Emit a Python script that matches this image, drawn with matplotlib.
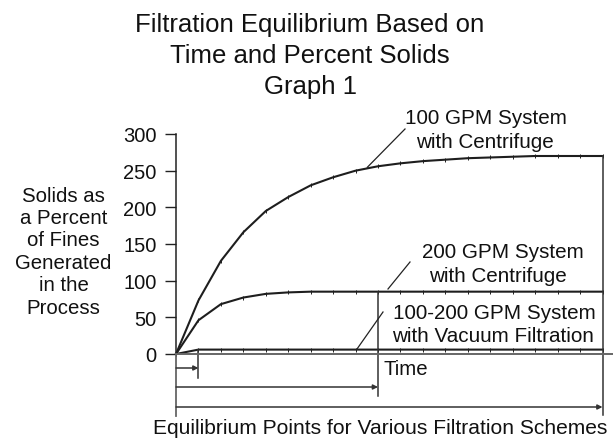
import matplotlib
matplotlib.use("Agg")
import matplotlib.pyplot as plt
from matplotlib.lines import Line2D

plt.rcParams['font.family'] = ['Liberation Sans', 'DejaVu Sans']

# ---------------- data ----------------
time_idx = list(range(20))
gpm100_centrifuge = [0, 73, 127, 166, 195, 214, 230, 241, 250, 256,
                     260, 263, 265, 267, 268, 269, 270, 270, 270, 270]
gpm200_centrifuge = [0, 46, 68, 77, 82, 84, 85, 85, 85, 85,
                     85, 85, 85, 85, 85, 85, 85, 85, 85, 85]
vacuum_filtration = [0, 6, 6, 6, 6, 6, 6, 6, 6, 6,
                     6, 6, 6, 6, 6, 6, 6, 6, 6, 6]
equilibrium_idx = [1, 9, 19]          # vacuum, 200 GPM, 100 GPM
equilibrium_val = [6, 85, 270]
y_ticks = [0, 50, 100, 150, 200, 250, 300]

title_lines = ["Filtration Equilibrium Based on", "Time and Percent Solids", "Graph 1"]
ylabel_lines = ["Solids as", "a Percent", "of Fines", "Generated", "in the", "Process"]
label_100 = ["100 GPM System", "with Centrifuge"]
label_200 = ["200 GPM System", "with Centrifuge"]
label_vac = ["100-200 GPM System", "with Vacuum Filtration"]

# ---------------- layout ----------------
W, H = 613, 439
fig = plt.figure(figsize=(W / 100, H / 100), dpi=100)

X0, Y0, YTOP = 176.0, 355.0, 135.0   # pixel positions of axes origin / top
DX = (602.5 - X0) / 19.0             # pixels per time step
x_right = (W - X0) / DX

ax = fig.add_axes([X0 / W, 1 - Y0 / H, (W - X0) / W, (Y0 - YTOP) / H])
ax.set_xlim(0, x_right)
ax.set_ylim(0, 300)
for s in ['top', 'right']:
    ax.spines[s].set_visible(False)
ax.spines['left'].set_color('#222222')
ax.spines['left'].set_linewidth(1.1)
ax.spines['bottom'].set_color('#666666')
ax.spines['bottom'].set_linewidth(1.4)
ax.set_xticks([])
ax.set_yticks(y_ticks)
ax.tick_params(axis='y', length=7.9, width=1.0, pad=6, labelsize=14.5,
               color='#222222', labelcolor='#111111')


def fx(px):
    return px / W


def fy(py):
    return 1 - py / H


def dy(py):
    """pixel row -> data y"""
    return (Y0 - py) / (Y0 - YTOP) * 300


curve_kw = dict(color='#1e1e1e', lw=1.5, marker='|', markersize=2.6,
                markeredgewidth=0.7, solid_joinstyle='round')
ax.plot(time_idx, gpm100_centrifuge, clip_on=False, **curve_kw)
ax.plot(time_idx, gpm200_centrifuge, clip_on=False, **curve_kw)
ax.plot(time_idx, vacuum_filtration, clip_on=False, **curve_kw)

# vertical markers at equilibrium points and arrows
bottoms = [379, 397, 416]
arrow_rows = [369, 388, 408]
for xi, yv, b, ar in zip(equilibrium_idx, equilibrium_val, bottoms, arrow_rows):
    ax.plot([xi, xi], [yv, dy(b)], color='#333333', lw=1.1, clip_on=False)
    ax.annotate('', xy=(xi, dy(ar)), xytext=(0, dy(ar)),
                arrowprops=dict(arrowstyle='-|>', color='#333333', lw=1.1,
                                mutation_scale=7, shrinkA=0, shrinkB=0),
                annotation_clip=False)
ax.plot([0, 0], [0, dy(417)], color='#666666', lw=1.3, clip_on=False)

# ---------------- texts ----------------
for txt, base in zip(title_lines, [32, 63, 94]):
    fig.text(fx(310), fy(base), txt, ha='center', va='baseline', fontsize=18.5,
             color='#111111')

for txt, base in zip(ylabel_lines, [201.5, 224, 246.5, 269, 291.5, 314]):
    fig.text(fx(63.5), fy(base), txt, ha='center', va='baseline', fontsize=14.7,
             color='#111111')


def two_lines(lines, centers, bases):
    for t, c, b in zip(lines, centers, bases):
        fig.text(fx(c), fy(b), t, ha='center', va='baseline', fontsize=14.9,
                 color='#111111')


two_lines(label_100, [486, 485], [124.3, 148.3])
two_lines(label_200, [503, 498], [258.3, 282.5])
two_lines(label_vac, [494, 493], [319.5, 341.5])

leaders = [((405, 130), (367.3, 168.3)),
           ((410, 263), (388, 290)),
           ((383, 313), (357, 350))]
for (xa, ya), (xb, yb) in leaders:
    fig.add_artist(Line2D([fx(xa), fx(xb)], [fy(ya), fy(yb)],
                          color='#222222', lw=0.9, transform=fig.transFigure))

fig.text(fx(383), fy(375), "Time", ha='left', va='baseline', fontsize=14.7,
         color='#111111')
fig.text(fx(380), fy(434.3), "Equilibrium Points for Various Filtration Schemes",
         ha='center', va='baseline', fontsize=15.1, color='#111111')

fig.savefig("out.png", dpi=100)
